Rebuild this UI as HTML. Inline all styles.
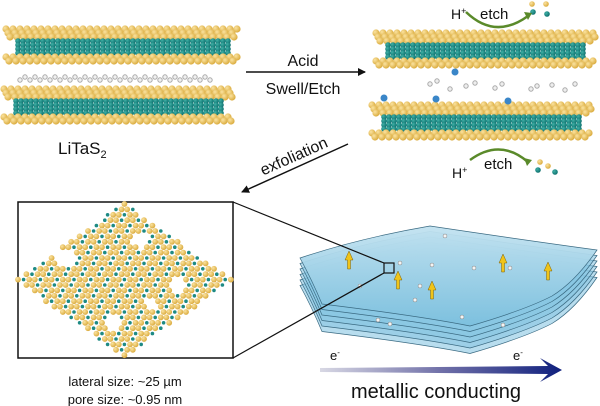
<!DOCTYPE html>
<html><head><meta charset="utf-8"><style>
html,body{margin:0;padding:0;background:#fff}
svg{display:block}
text{font-family:"Liberation Sans",sans-serif;fill:#111}
</style></head><body>
<svg id="s" width="600" height="406" viewBox="0 0 600 406" xmlns="http://www.w3.org/2000/svg">
<defs>
<radialGradient id="gold" cx="35%" cy="35%" r="70%"><stop offset="0" stop-color="#fbe3a0"/><stop offset="1" stop-color="#d9a93a"/></radialGradient>
<radialGradient id="teal" cx="35%" cy="35%" r="70%"><stop offset="0" stop-color="#3fb0a6"/><stop offset="1" stop-color="#0d6e6c"/></radialGradient>
<linearGradient id="arr" x1="0" x2="1"><stop offset="0" stop-color="#d8d8e4"/><stop offset="0.5" stop-color="#7070a8"/><stop offset="1" stop-color="#10207e"/></linearGradient>
<linearGradient id="sheet" x1="0" y1="0" x2="0" y2="1"><stop offset="0" stop-color="#c2e2f0"/><stop offset="1" stop-color="#7cc0de"/></linearGradient>
<marker id="ah" markerWidth="8" markerHeight="8" refX="7" refY="4" orient="auto" markerUnits="userSpaceOnUse"><path d="M0,0 L8,4 L0,8 Z" fill="#111"/></marker>
</defs>
<g id="atoms"></g>
<rect x="18" y="202" width="215" height="156" fill="none" stroke="#111" stroke-width="1.5"/>
<g id="lat"></g>
<g id="sheets"></g>
<line x1="233" y1="202" x2="384" y2="263" stroke="#111" stroke-width="1.2"/>
<line x1="233" y1="358" x2="384" y2="273" stroke="#111" stroke-width="1.2"/>
<rect x="384" y="263" width="10" height="10" fill="none" stroke="#111" stroke-width="1.2"/>
<line x1="246" y1="72" x2="365" y2="72" stroke="#111" stroke-width="1.5" marker-end="url(#ah)"/>
<text x="303" y="66" font-size="16" text-anchor="middle">Acid</text>
<text x="303" y="94" font-size="16" text-anchor="middle">Swell/Etch</text>
<line x1="348" y1="144" x2="242" y2="192" stroke="#111" stroke-width="1.5" marker-end="url(#ah)"/>
<text x="0" y="0" font-size="16" text-anchor="middle" transform="translate(296,161) rotate(-24)">exfoliation</text>
<text x="58" y="154" font-size="17">LiTaS<tspan font-size="11" dy="4">2</tspan></text>
<text x="125" y="386" font-size="13" text-anchor="middle">lateral size: ~25 µm</text>
<text x="125" y="404" font-size="13" text-anchor="middle">pore size: ~0.95 nm</text>
<text x="451" y="19" font-size="14">H<tspan font-size="9" dy="-5">+</tspan></text>
<text x="480" y="19" font-size="15">etch</text>
<path d="M466,12 Q495,40 528,16" fill="none" stroke="#5a8a2a" stroke-width="2.5"/>
<path d="M524,12 L532,13 L528,20Z" fill="#5a8a2a"/>
<text x="452" y="178" font-size="14">H<tspan font-size="9" dy="-5">+</tspan></text>
<text x="484" y="169" font-size="15">etch</text>
<path d="M470,160 Q500,138 528,162" fill="none" stroke="#5a8a2a" stroke-width="2.5"/>
<path d="M524,158 L532,160 L527,166Z" fill="#5a8a2a"/>
<path d="M320,368 L548,366 L540,358 L562,370 L540,382 L548,374 L320,372Z" fill="url(#arr)"/>
<text x="330" y="360" font-size="13">e<tspan font-size="8" dy="-5">-</tspan></text>
<text x="513" y="360" font-size="13">e<tspan font-size="8" dy="-5">-</tspan></text>
<text x="436" y="398" font-size="20" text-anchor="middle">metallic conducting</text>
</svg>
<script>
var NS="http://www.w3.org/2000/svg";
function c(g,x,y,r,f,op){var e=document.createElementNS(NS,"circle");e.setAttribute("cx",x.toFixed(1));e.setAttribute("cy",y.toFixed(1));e.setAttribute("r",r);e.setAttribute("fill",f);if(op)e.setAttribute("opacity",op);g.appendChild(e);}
var A=document.getElementById("atoms");
function layer(x0,x1,yt){
 [0,4,8].forEach(function(dy,k){for(var x=x0+k*2;x<x1;x+=7){c(A,x,yt+dy+3,3.6,"url(#gold)");}});
 for(var dy=15;dy<=27;dy+=4){for(var x=x0+10+(dy%2)*2;x<x1-8;x+=5){c(A,x,yt+dy,2.8,"url(#teal)");}}
 [30,34].forEach(function(dy,k){for(var x=x0+k*3;x<x1;x+=7){c(A,x,yt+dy+1,3.6,"url(#gold)");}});
}
layer(6,238,26);layer(4,234,86);
for(var x=20;x<215;x+=5){c(A,x,79+((x/5)%2?-2:1),2.2,"#f0f0f0");A.lastChild.setAttribute("stroke","#aaa");}
layer(376,596,30);layer(372,592,102);
[[430,84],[437,81],[450,89],[466,86],[475,83],[495,88],[502,84],[531,89],[537,86],[552,85],[565,90],[575,84]].forEach(function(p){c(A,p[0],p[1],2.2,"#eee");A.lastChild.setAttribute("stroke","#aaa");});
[[455,72],[384,98],[436,99],[508,101]].forEach(function(p){c(A,p[0],p[1],3.5,"#3a86c8");});
[[533,12],[546,4],[547,14],[532,4]].forEach(function(p,i){c(A,p[0],p[1],2.8,i%2?"url(#gold)":"url(#teal)");});
[[538,170],[548,166],[555,172],[540,162]].forEach(function(p,i){c(A,p[0],p[1],2.8,i%2?"url(#gold)":"url(#teal)");});
var L=document.getElementById("lat");
function inside(x,y){var dx=Math.abs(x-124)/108,dy=Math.abs(y-280)/77;return dx+dy<=1.0;}
var pores=[[65,258,10],[140,240,8],[178,285,9],[115,322,8],[150,305,6],[210,300,6]];
for(var j=0;j<30;j++){for(var i=0;i<45;i++){
 var x=18+i*5.6+(j%2)*2.8, y=204+j*5.4;
 if(!inside(x,y))continue;
 var skip=false;pores.forEach(function(p){if(Math.hypot(x-p[0],y-p[1])<p[2])skip=true;});
 if(skip)continue;
 if((i+j)%3==0)c(L,x,y,1.8,"#1e8a84");else c(L,x,y,2.9,"url(#gold)");
}}
var S=document.getElementById("sheets");
for(var k=5;k>=0;k--){var d=k*5.5;var p=document.createElementNS(NS,"path");
 p.setAttribute("transform","translate(0,"+d+")");
 p.setAttribute("d","M300,258 Q360,238 430,226 Q510,238 597,250 Q575,282 552,296 Q525,310 470,326 Q420,316 322,304 Q312,280 300,258Z");
 p.setAttribute("fill",k==0?"url(#sheet)":"#88c6e2");p.setAttribute("fill-opacity",k==0?"0.95":"0.6");p.setAttribute("stroke","#3a6a82");p.setAttribute("stroke-width","0.7");S.appendChild(p);}
[[445,236],[400,263],[432,265],[474,268],[510,268],[415,300],[420,286],[390,324],[360,286],[503,325],[462,317],[378,320]].forEach(function(p){c(S,p[0],p[1],2,"#f4f4f4");S.lastChild.setAttribute("stroke","#666");S.lastChild.setAttribute("stroke-width","0.4");});
[[349,255],[398,275],[432,285],[503,258],[548,266]].forEach(function(p){var a=document.createElementNS(NS,"path");a.setAttribute("d","M"+(p[0]-4)+","+(p[1]+5)+" L"+p[0]+","+(p[1]-4)+" L"+(p[0]+4)+","+(p[1]+5)+" L"+(p[0]+1.5)+","+(p[1]+5)+" L"+(p[0]+1.5)+","+(p[1]+14)+" L"+(p[0]-1.5)+","+(p[1]+14)+" L"+(p[0]-1.5)+","+(p[1]+5)+"Z");a.setAttribute("fill","#f0c419");a.setAttribute("stroke","#7a6010");a.setAttribute("stroke-width","0.5");S.appendChild(a);});
</script>
</body></html>
